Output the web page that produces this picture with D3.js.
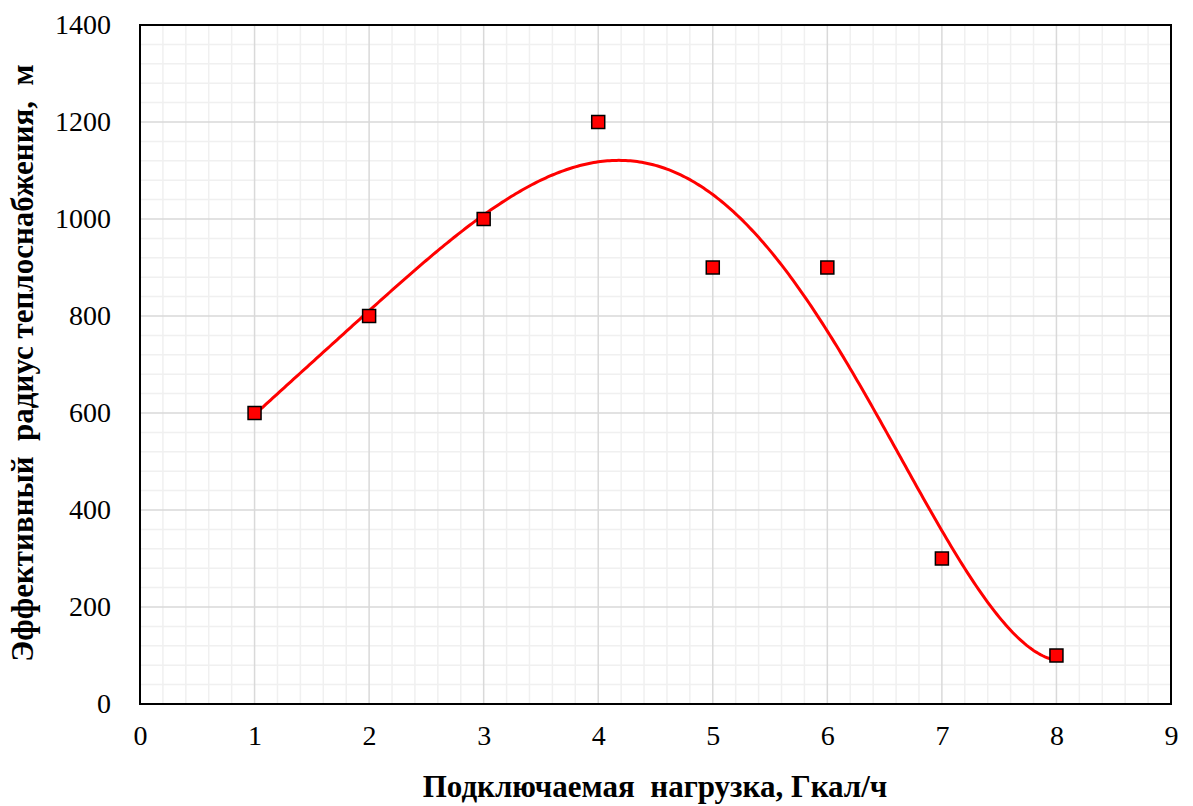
<!DOCTYPE html>
<html><head><meta charset="utf-8">
<script src="https://cdn.jsdelivr.net/npm/d3@7"></script>
<style>body{margin:0;background:#fff}svg{display:block}</style>
</head><body>
<svg id="c" width="1193" height="806"></svg>
<script>
// measured data points
const xValues = [1, 2, 3, 4, 5, 6, 7, 8];
const yValues = [600, 800, 1000, 1200, 900, 900, 300, 100];
// polynomial trendline (least-squares fit of the data, order 5)
const trendOrder = 5;
const xTicks = [0, 1, 2, 3, 4, 5, 6, 7, 8, 9];
const yTicks = [0, 200, 400, 600, 800, 1000, 1200, 1400];
const xTitle = "Подключаемая  нагрузка, Гкал/ч";
const yTitle = "Эффективный  радиус теплоснабжения,  м";

const svg = d3.select("#c");
const L = 140, R = 1171, T = 25, B = 704;
const x = d3.scaleLinear().domain([0, 9]).range([L, R]);
const y = d3.scaleLinear().domain([0, 1400]).range([B, T]);
const font = "'Liberation Serif','Times New Roman',serif";

function polyfit(xs, ys, deg) {
  const n = deg + 1;
  const A = Array.from({length: n}, () => new Array(n + 1).fill(0));
  xs.forEach((xv, k) => {
    for (let i = 0; i < n; i++) {
      for (let j = 0; j < n; j++) A[i][j] += Math.pow(xv, i + j);
      A[i][n] += ys[k] * Math.pow(xv, i);
    }
  });
  for (let i = 0; i < n; i++) {
    let p = i; for (let r = i + 1; r < n; r++) if (Math.abs(A[r][i]) > Math.abs(A[p][i])) p = r;
    [A[i], A[p]] = [A[p], A[i]];
    for (let r = 0; r < n; r++) if (r !== i) { const f = A[r][i] / A[i][i]; for (let c = i; c <= n; c++) A[r][c] -= f * A[i][c]; }
  }
  return A.map((row, i) => row[n] / row[i]);
}

// minor grid
const xMinor = d3.range(0, 9.001, 0.2).filter(v => Math.abs(v - Math.round(v)) > 1e-6);
const yMinor = d3.range(0, 1400.1, 40).filter(v => v % 200 !== 0);
const g = svg.append("g");
g.selectAll(".xm").data(xMinor).join("line")
  .attr("x1", d => x(d)).attr("x2", d => x(d)).attr("y1", T).attr("y2", B)
  .attr("stroke", "#f0f0f0").attr("stroke-width", 1.5);
g.selectAll(".ym").data(yMinor).join("line")
  .attr("y1", d => y(d)).attr("y2", d => y(d)).attr("x1", L).attr("x2", R)
  .attr("stroke", "#f0f0f0").attr("stroke-width", 1.5);
// major grid
g.selectAll(".xM").data(xTicks).join("line")
  .attr("x1", d => x(d)).attr("x2", d => x(d)).attr("y1", T).attr("y2", B)
  .attr("stroke", "#d9d9d9").attr("stroke-width", 1.5);
g.selectAll(".yM").data(yTicks).join("line")
  .attr("y1", d => y(d)).attr("y2", d => y(d)).attr("x1", L).attr("x2", R)
  .attr("stroke", "#d9d9d9").attr("stroke-width", 1.5);

// axes (labels only)
const xAxis = svg.append("g").attr("transform", `translate(0,${B})`)
  .call(d3.axisBottom(x).tickValues(xTicks).tickSize(0).tickPadding(0).tickFormat(d3.format("d")));
xAxis.select(".domain").remove();
xAxis.selectAll("text").attr("font-family", font).attr("font-size", 28).attr("fill", "#000")
  .attr("dy", "1.45em");
const yAxis = svg.append("g").attr("transform", `translate(${L},0)`)
  .call(d3.axisLeft(y).tickValues(yTicks).tickSize(0).tickPadding(29).tickFormat(d3.format("d")));
yAxis.select(".domain").remove();
yAxis.selectAll("text").attr("font-family", font).attr("font-size", 28).attr("fill", "#000");

// frame
svg.append("rect").attr("x", L).attr("y", T).attr("width", R - L).attr("height", B - T)
  .attr("fill", "none").attr("stroke", "#000").attr("stroke-width", 2);

// trend curve
const coef = polyfit(xValues, yValues, trendOrder);
const xs = d3.range(d3.min(xValues), d3.max(xValues) + 1e-9, 0.02);
const trend = xs.map(t => [t, coef.reduce((s, c, i) => s + c * Math.pow(t, i), 0)]);
svg.append("path").datum(trend)
  .attr("d", d3.line().x(d => x(d[0])).y(d => y(d[1])))
  .attr("fill", "none").attr("stroke", "#ff0000").attr("stroke-width", 3);

// markers
const pts = xValues.map((v, i) => [v, yValues[i]]);
const s = 13;
svg.selectAll(".pt").data(pts).join("rect")
  .attr("x", d => x(d[0]) - s / 2).attr("y", d => y(d[1]) - s / 2)
  .attr("width", s).attr("height", s)
  .attr("fill", "#ff0000").attr("stroke", "#000").attr("stroke-width", 1.5);

// titles
svg.append("text").attr("x", 655).attr("y", 797).attr("text-anchor", "middle")
  .attr("font-family", font).attr("font-size", 31).attr("font-weight", "bold")
  .style("white-space", "pre").text(xTitle);
svg.append("text").attr("transform", "translate(33,363) rotate(-90)").attr("text-anchor", "middle")
  .attr("font-family", font).attr("font-size", 31).attr("font-weight", "bold")
  .style("white-space", "pre").text(yTitle);
</script>
</body></html>
